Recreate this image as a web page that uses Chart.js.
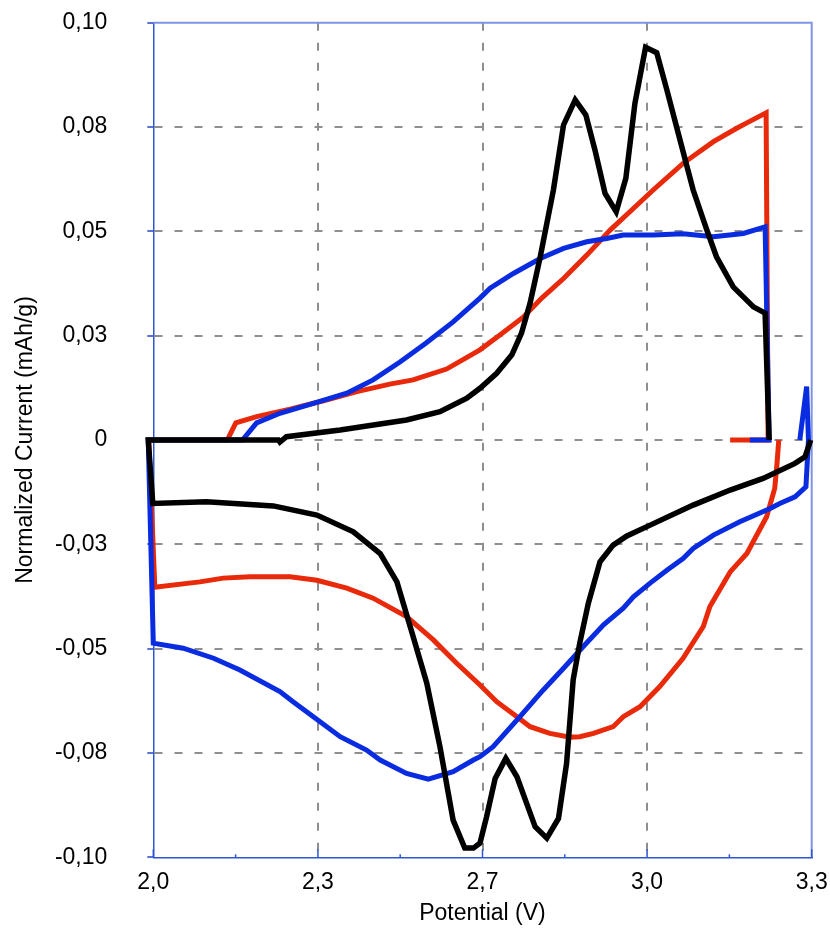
<!DOCTYPE html>
<html>
<head>
<meta charset="utf-8">
<script src="https://cdn.jsdelivr.net/npm/chart.js@4/dist/chart.umd.min.js"></script>
<style>
  html, body { margin: 0; padding: 0; background: #fff; }
  #wrap { width: 830px; height: 933px; }
</style>
</head>
<body>
<div id="wrap"><canvas id="c" width="830" height="933"></canvas></div>
<script>
// ---- axis ticks ----
const xTicks = [2.0, 2.325, 2.65, 2.975, 3.3];
const xTickLabels = ['2,0', '2,3', '2,7', '3,0', '3,3'];
const yTicks = [0.1, 0.075, 0.05, 0.025, 0, -0.025, -0.05, -0.075, -0.1];
const yTickLabels = ['0,10', '0,08', '0,05', '0,03', '0', '-0,03', '-0,05', '-0,08', '-0,10'];

// ---- black curve (potential V, normalized current) ----
const blackV = [3.298, 3.287, 3.267, 3.204, 3.139, 3.066, 2.981, 2.935, 2.908, 2.882, 2.859, 2.842, 2.829, 2.816, 2.800, 2.777, 2.754, 2.718, 2.696, 2.675, 2.658, 2.645, 2.632, 2.615, 2.592, 2.566, 2.540, 2.513, 2.481, 2.448, 2.395, 2.323, 2.237, 2.105, 1.999, 1.990, 2.247, 2.250, 2.263, 2.369, 2.500, 2.566, 2.619, 2.645, 2.678, 2.708, 2.727, 2.744, 2.764, 2.790, 2.810, 2.833, 2.854, 2.872, 2.892, 2.914, 2.933, 2.951, 2.972, 2.994, 3.014, 3.040, 3.066, 3.093, 3.112, 3.145, 3.185, 3.208, 3.216];
const blackI = [0, -0.0040, -0.0056, -0.0092, -0.0120, -0.0156, -0.0204, -0.0230, -0.0252, -0.0292, -0.0391, -0.0487, -0.0575, -0.0775, -0.0907, -0.0954, -0.0927, -0.0807, -0.0763, -0.0811, -0.0903, -0.0966, -0.0978, -0.0978, -0.0911, -0.0735, -0.0583, -0.0471, -0.0340, -0.0272, -0.0220, -0.0180, -0.0158, -0.0148, -0.0152, 0, 0, -0.0005, 0.0008, 0.0024, 0.0048, 0.0068, 0.0100, 0.0124, 0.0160, 0.0204, 0.0256, 0.0328, 0.0439, 0.0599, 0.0755, 0.0815, 0.0779, 0.0695, 0.0591, 0.0547, 0.0627, 0.0807, 0.0941, 0.0928, 0.0839, 0.0719, 0.0599, 0.0503, 0.0439, 0.0367, 0.0319, 0.0304, 0];

// ---- red curve ----
const redV = [3.235, 3.231, 3.227, 3.211, 3.172, 3.139, 3.099, 3.086, 3.046, 3.000, 2.961, 2.928, 2.908, 2.869, 2.842, 2.823, 2.783, 2.744, 2.718, 2.678, 2.645, 2.599, 2.553, 2.500, 2.434, 2.382, 2.323, 2.270, 2.191, 2.138, 2.092, 2.003, 1.991, 2.146, 2.163, 2.204, 2.270, 2.336, 2.402, 2.467, 2.513, 2.579, 2.645, 2.685, 2.731, 2.767, 2.810, 2.856, 2.902, 2.941, 2.987, 3.046, 3.106, 3.152, 3.172, 3.210, 3.214, 3.139];
const redI = [0, -0.0064, -0.0116, -0.0184, -0.0272, -0.0316, -0.0399, -0.0447, -0.0523, -0.0591, -0.0639, -0.0663, -0.0687, -0.0703, -0.0711, -0.0712, -0.0703, -0.0687, -0.0663, -0.0627, -0.0587, -0.0535, -0.0479, -0.0423, -0.0379, -0.0355, -0.0336, -0.0328, -0.0328, -0.0331, -0.0340, -0.0353, 0, 0, 0.0041, 0.0056, 0.0074, 0.0094, 0.0116, 0.0134, 0.0144, 0.0170, 0.0216, 0.0252, 0.0295, 0.0340, 0.0387, 0.0443, 0.0503, 0.0547, 0.0599, 0.0663, 0.0715, 0.0747, 0.0760, 0.0784, 0, 0];

// ---- blue curve ----
const blueV = [3.2765, 3.290, 3.2936, 3.2886, 3.267, 3.237, 3.218, 3.158, 3.106, 3.066, 3.046, 3.014, 2.981, 2.948, 2.928, 2.889, 2.849, 2.810, 2.770, 2.724, 2.671, 2.645, 2.632, 2.592, 2.543, 2.500, 2.448, 2.421, 2.369, 2.316, 2.276, 2.250, 2.171, 2.119, 2.059, 2.000, 1.990, 2.176, 2.204, 2.250, 2.316, 2.382, 2.434, 2.487, 2.538, 2.592, 2.645, 2.665, 2.711, 2.764, 2.810, 2.856, 2.895, 2.928, 2.987, 3.046, 3.106, 3.165, 3.208, 3.216, 3.178];
const blueI = [0, 0.0128, 0, -0.0112, -0.0136, -0.0152, -0.0164, -0.0196, -0.0228, -0.0260, -0.0284, -0.0312, -0.0343, -0.0376, -0.0403, -0.0443, -0.0495, -0.0547, -0.0599, -0.0663, -0.0735, -0.0759, -0.0767, -0.0795, -0.0813, -0.0799, -0.0767, -0.0743, -0.0711, -0.0663, -0.0627, -0.0603, -0.0551, -0.0523, -0.0499, -0.0487, 0, 0, 0.0041, 0.0064, 0.0088, 0.0112, 0.0144, 0.0187, 0.0232, 0.0283, 0.0340, 0.0364, 0.0399, 0.0435, 0.0459, 0.0475, 0.0483, 0.0491, 0.0491, 0.0494, 0.0487, 0.0495, 0.0511, 0, 0];

const toXY = (vs, is) => vs.map((v, k) => ({ x: v, y: is[k] }));

const GRID = '#8e8e8e';
const AXIS = '#2f55d4';
const FRAME = '#7f93e8';

const framePlugin = {
  id: 'frame',
  beforeDatasetsDraw(chart) {
    const { ctx, chartArea: a, scales } = chart;
    ctx.save();
    ctx.strokeStyle = FRAME;
    ctx.lineWidth = 2;
    ctx.beginPath();
    ctx.moveTo(a.left, a.top);
    ctx.lineTo(a.right, a.top);
    ctx.lineTo(a.right, a.bottom);
    ctx.stroke();
    ctx.strokeStyle = AXIS;
    ctx.lineWidth = 1.5;
    const xs = scales.x;
    xTicks.forEach((v, i) => {
      const px = xs.getPixelForValue(v);
      ctx.beginPath(); ctx.moveTo(px, a.bottom); ctx.lineTo(px, a.bottom - 8); ctx.stroke();
      if (i < xTicks.length - 1) {
        const m = xs.getPixelForValue((v + xTicks[i + 1]) / 2);
        ctx.beginPath(); ctx.moveTo(m, a.bottom); ctx.lineTo(m, a.bottom - 3); ctx.stroke();
      }
    });
    ctx.restore();
  }
};

Chart.defaults.font.family = '"Liberation Sans", Arial, sans-serif';
Chart.defaults.font.size = 23;
Chart.defaults.color = '#000';

const lineDs = (label, data, color, w, order) => ({
  label, data, borderColor: color, backgroundColor: color, borderWidth: w,
  showLine: true, pointRadius: 0, pointHoverRadius: 0, tension: 0,
  fill: false, clip: false, order
});

new Chart(document.getElementById('c'), {
  type: 'scatter',
  data: {
    datasets: [
      lineDs('black', toXY(blackV, blackI), '#000000', 5.5, 0),
      lineDs('blue', toXY(blueV, blueI), '#0a2ce0', 5, 1),
      lineDs('red', toXY(redV, redI), '#e8290a', 5, 2)
    ]
  },
  options: {
    responsive: false,
    animation: false,
    events: [],
    layout: { padding: { top: 22.7, right: 18.3, bottom: 0, left: 0 } },
    plugins: { legend: { display: false }, tooltip: { enabled: false } },
    scales: {
      x: {
        type: 'linear',
        min: xTicks[0], max: xTicks[xTicks.length - 1],
        afterBuildTicks: s => { s.ticks = xTicks.map(v => ({ value: v })); },
        afterFit: s => { s.height = 75.7; s.paddingLeft = 0; s.paddingRight = 0; },
        ticks: {
          padding: 12, maxRotation: 0, autoSkip: false,
          callback: (val) => { const k = xTicks.findIndex(t => Math.abs(t - val) < 1e-9); return k >= 0 ? xTickLabels[k] : ''; }
        },
        grid: {
          drawTicks: false, lineWidth: 2,
          color: c => (c.index === 0 || c.index === xTicks.length - 1) ? 'rgba(0,0,0,0)' : GRID
        },
        border: { display: true, color: AXIS, width: 1.5, dash: [8, 12] },
        title: { display: true, text: 'Potential (V)', padding: { top: 0, bottom: 5.7 }, font: { size: 23 } }
      },
      y: {
        type: 'linear',
        min: -0.1, max: 0.1,
        afterBuildTicks: s => { s.ticks = yTicks.slice().reverse().map(v => ({ value: v })); },
        afterFit: s => { s.width = 153.3; s.paddingTop = 0; s.paddingBottom = 0; },
        ticks: {
          padding: 40, autoSkip: false,
          callback: (val) => { const k = yTicks.findIndex(t => Math.abs(t - val) < 1e-9); return k >= 0 ? yTickLabels[k] : ''; }
        },
        grid: {
          drawTicks: true, tickLength: 6, tickWidth: 2, tickColor: '#5a72d8', lineWidth: 2,
          color: c => (c.index === 0 || c.index === yTicks.length - 1) ? 'rgba(0,0,0,0)' : GRID
        },
        border: { display: true, color: AXIS, width: 1.5, dash: [8, 12] },
        title: { display: true, text: 'Normalized Current (mAh/g)', padding: { top: 11.5, bottom: 0 }, font: { size: 23 } }
      }
    }
  },
  plugins: [framePlugin]
});
</script>
</body>
</html>
